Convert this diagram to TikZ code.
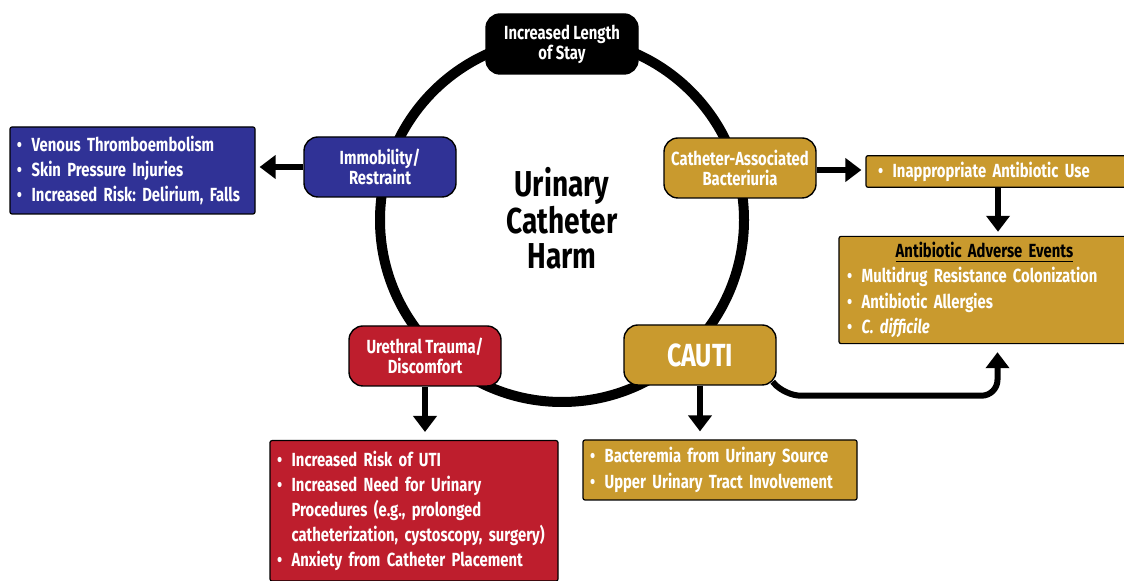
\documentclass[tikz,border=0pt]{standalone}
\usepackage{fontspec}
\setmainfont{Fira Sans}[FakeStretch=0.78]
\usetikzlibrary{arrows.meta}
\definecolor{harmblue}{RGB}{48,50,150}
\definecolor{harmred}{RGB}{190,30,45}
\definecolor{harmgold}{RGB}{201,154,46}
\frenchspacing
\newcommand{\itm}{\textbullet\enspace}
\newcommand{\cnt}{\hphantom{\textbullet\enspace}}
\tikzset{
  hub/.style = {draw=black, line width=0.7pt, rounded corners=7pt,
    minimum width=76pt, minimum height=30pt, inner sep=1pt, align=center,
    text=white, font=\bfseries\fontsize{9.5}{10}\selectfont},
  listbox/.style = {draw=black, line width=0.6pt, rounded corners=1pt,
    align=left, text=white, inner xsep=3.5pt, inner ysep=3pt,
    font=\bfseries\fontsize{9.5}{12.6}\selectfont},
  fat/.style = {line width=3pt, -{Triangle[width=11.5pt,length=8pt]}, shorten >=2pt},
}
\begin{document}
\begin{tikzpicture}[x=0.5pt, y=-0.5pt]
      \useasboundingbox (0,0) rectangle (1124,581);
      \clip (0,0) rectangle (1124,581);

      % the ring
      \coordinate (hubc) at (562,218);
      \draw[line width=5pt] ([yshift=-1pt]hubc) circle (182);
      \node[align=center, font=\bfseries\fontsize{18}{17.5}\selectfont] (title) at (hubc) {Urinary\\Catheter\\Harm};

      % boxes on the ring
      \node[hub, fill=black] (stay) at (562,44) {Increased Length\\of Stay};
      \node[hub, fill=harmblue] (immob) at (380,167) {Immobility/\\Restraint};
      \node[hub, fill=harmgold] (bact) at (740,168) {Catheter-Associated\\Bacteriuria};
      \node[hub, fill=harmred] (trauma) at (425,356) {Urethral Trauma/\\Discomfort};
      \node[hub, fill=harmgold, font=\bfseries\fontsize{16}{18}\selectfont] (cauti) at (700,355) {CAUTI};

      % outcome lists
      \node[listbox, fill=harmblue, text width=115.5pt, minimum height=43.5pt] (vte) at (132.5,170.5)
        {\itm Venous Thromboembolism\\ \itm Skin Pressure Injuries\\ \itm Increased Risk: Delirium, Falls};
      \node[listbox, fill=harmgold, text width=120pt, inner xsep=6pt, minimum height=15.5pt] (abuse) at (998,171.5)
        {\itm Inappropriate Antibiotic Use};
      \node[listbox, fill=harmgold, text width=137.5pt, inner xsep=4pt, minimum height=53pt] (adverse) at (984.5,290)
        {\makebox[\hsize]{\color{black}\underline{Antibiotic Adverse Events}}\\
         \itm Multidrug Resistance Colonization\\ \itm Antibiotic Allergies\\ \itm \textit{C. difficile}};
      \node[listbox, fill=harmred, anchor=north, text width=137pt, inner ysep=5pt] (risk) at (414,440)
        {\itm Increased Risk of UTI\\ \itm Increased Need for Urinary\\ \cnt Procedures (e.g., prolonged\\
         \cnt catheterization, cystoscopy, surgery)\\ \itm Anxiety from Catheter Placement\\[8pt]};
      \node[listbox, fill=harmgold, text width=130pt, minimum height=30pt] (sepsis) at (720,470)
        {\itm Bacteremia from Urinary Source\\ \itm Upper Urinary Tract Involvement};

      % arrows
      \draw[fat] (immob.west) -- (immob.west -| vte.east);
      \draw[fat] ([yshift=-1pt]bact.east) -- ([yshift=-1pt]bact.east -| abuse.west);
      \draw[fat] (abuse.south) -- (abuse.south |- adverse.north);
      \draw[fat] (trauma.south) -- ([yshift=2pt]trauma.south |- risk.north);
      \draw[fat] (cauti.south) -- ([yshift=2pt]cauti.south |- sepsis.north);
      \draw[fat, rounded corners=8pt] ([shift={(-2pt,2pt)}]cauti.south east) -- ++(12,14)
        -| ([xshift=6.5pt,yshift=-2pt]adverse.south);
    \end{tikzpicture}
\end{document}
